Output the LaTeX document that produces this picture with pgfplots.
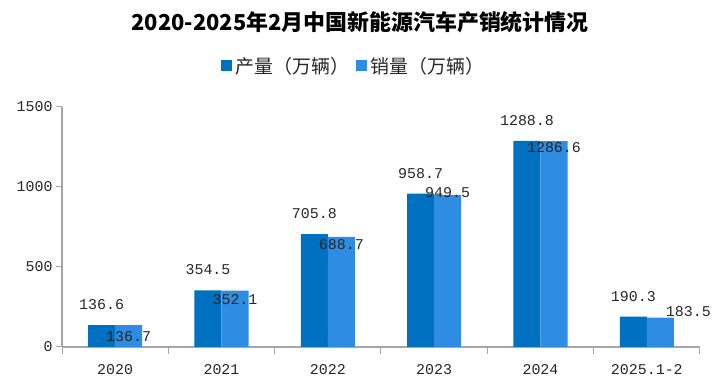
\documentclass[border=0pt]{standalone}
\usepackage{fontspec}
\usepackage{pgfplots}
\usepackage{pgfplotstable}
\pgfplotsset{compat=1.18}
\setmainfont{Liberation Mono}
\newfontfamily\cjk{Noto Sans CJK SC}
\definecolor{prod}{RGB}{0,112,192}
\definecolor{sale}{RGB}{46,141,226}
\definecolor{axgray}{RGB}{166,166,166}
\definecolor{txt}{RGB}{38,38,38}
\pgfplotstableread{
x prod sale sdx sdy
0 136.6 136.7 0 -11.6
1 354.5 352.1 0 -9.3
2 705.8 688.7 0 -8.2
3 958.7 949.5 0 2
4 1288.8 1286.6 0 -7.2
5 190.3 183.5 28 6
}\data
\begin{document}
\begin{tikzpicture}
\path[use as bounding box] (0,0) rectangle (722bp,388bp);
\node[font=\cjk\bfseries\fontsize{22}{22}\selectfont, text=black] at (360bp,366bp) {2020-2025年2月中国新能源汽车产销统计情况};
\begin{axis}[
  at={(62bp,41bp)}, anchor=south west,
  scale only axis, width=638bp, height=240bp,
  xmin=-0.5, xmax=5.5, ymin=0, ymax=1500,
  ybar=0pt, bar width=27bp,
  axis x line*=bottom, axis y line*=left,
  axis line style={axgray, line width=1.2bp},
  tick align=outside,
  ytick={0,500,1000,1500},
  major tick length=6bp, minor tick length=7bp,
  every tick/.style={axgray, line width=1bp},
  xtick={0,1,2,3,4,5},
  xticklabels={2020,2021,2022,2023,2024,2025.1-2},
  minor xtick={-0.5,0.5,1.5,2.5,3.5,4.5,5.5},
  major x tick style={draw=none},
  /pgf/number format/assume math mode=true,
  /pgf/number format/1000 sep={},
  ticklabel style={font=\fontsize{15}{15}\selectfont, text=txt},
  xticklabel style={yshift=-8bp},
  legend style={at={(0.457,1.171)}, anchor=center, draw=none, fill=none,
    legend columns=2, font=\cjk\fontsize{19}{19}\selectfont, text=txt,
    /tikz/every odd column/.append style={column sep=2bp},
    /tikz/every even column/.append style={column sep=4bp}},
  legend image code/.code={\fill[#1] (0bp,-5.5bp) rectangle (11bp,5.5bp);},
  nodes near coords,
  point meta=explicit symbolic,
  every node near coord/.append style={font=\fontsize{15}{15}\selectfont, text=txt, inner sep=0pt},
]
\addplot[fill=prod, draw=none, every node near coord/.append style={yshift=15bp}]
  table[x=x, y=prod, meta=prod]{\data};
\addlegendentry{产量（万辆）}
\addplot[fill=sale, draw=none,
  visualization depends on={\thisrow{sdx} \as \sdx},
  visualization depends on={\thisrow{sdy} \as \sdy},
  every node near coord/.append style={xshift=\sdx*1bp, yshift=\sdy*1bp-5bp}]
  table[x=x, y=sale, meta=sale]{\data};
\addlegendentry{销量（万辆）}
\end{axis}
\end{tikzpicture}
\end{document}
